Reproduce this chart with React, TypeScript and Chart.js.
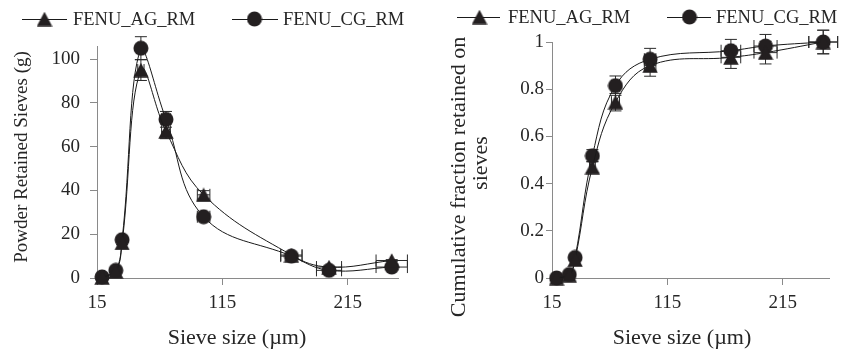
import React, { useEffect, useRef } from "react";
import { Chart, registerables } from "chart.js";

Chart.register(...registerables);

// ---------- data ----------
const seriesNames = ["FENU_AG_RM", "FENU_CG_RM"];
const sieveSizes = [19, 30, 35, 50, 70, 100, 170, 200, 250];
const sieveSizeErr = [0.95, 1.5, 1.75, 2.5, 3.5, 5, 8.5, 10, 12.5];

const agRetained = [0.3, 3, 16, 95, 67, 38, 10.5, 5, 8];
const agRetainedErr = [0.02, 0.15, 0.8, 4.75, 3.35, 1.9, 0.53, 0.25, 0.4];
const cgRetained = [0.5, 3.5, 17.5, 105, 72.5, 28, 10, 3.5, 5];
const cgRetainedErr = [0.03, 0.18, 0.88, 5.25, 3.6, 1.4, 0.5, 0.18, 0.25];

const agCumulative = [0, 0.012, 0.078, 0.47, 0.745, 0.9, 0.935, 0.955, 1.0];
const agCumulativeErr = [0, 0.0006, 0.004, 0.024, 0.037, 0.045, 0.047, 0.048, 0.05];
const cgCumulative = [0, 0.015, 0.087, 0.518, 0.815, 0.927, 0.963, 0.983, 1.0];
const cgCumulativeErr = [0, 0.0008, 0.0044, 0.026, 0.041, 0.046, 0.048, 0.049, 0.05];

const xTicks = [15, 115, 215];
const retainedTicks = [0, 20, 40, 60, 80, 100];
const cumulativeTicks = [0, 0.2, 0.4, 0.6, 0.8, 1];

const xTitle = "Sieve size (\u00b5m)";
const retainedTitle = ["Powder Retained Sieves (g)"];
const cumulativeTitle = ["Cumulative fraction retained on", "sieves"];

// ---------- styling ----------
const FONT = "'Liberation Serif', 'Times New Roman', serif";
const MARK = "#231f20";
const LINE = "#1a1a1a";
const AXIS = "#8a8a8a";
const TEXT = "#262626";
const W = 421;
const H = 350;

function makeTriangle(): HTMLCanvasElement {
  const c = document.createElement("canvas");
  c.width = 16;
  c.height = 15;
  const ctx = c.getContext("2d")!;
  ctx.fillStyle = MARK;
  ctx.beginPath();
  ctx.moveTo(8, 0.3);
  ctx.lineTo(15.7, 14.7);
  ctx.lineTo(0.3, 14.7);
  ctx.closePath();
  ctx.fill();
  return c;
}

function makeCircle(): HTMLCanvasElement {
  const c = document.createElement("canvas");
  c.width = 16;
  c.height = 16;
  const ctx = c.getContext("2d")!;
  ctx.fillStyle = MARK;
  ctx.beginPath();
  ctx.arc(8, 8, 7.5, 0, Math.PI * 2);
  ctx.fill();
  return c;
}

type PanelSpec = {
  ag: number[];
  agErr: number[];
  cg: number[];
  cgErr: number[];
  yMax: number;
  yTicks: number[];
  yTitle: string[];
  yFmt: (v: number) => string;
  area: { left: number; right: number; top: number; bottom: number };
  yTickLen: number;
  yTickPad: number;
  legend: { y: number; items: { l1: number; l2: number; m: number; t: number }[] };
  yTitlePos: { x: number[]; y: number[]; font: number };
  xTitlePos: { x: number; y: number; font: number };
};

const errorBarPlugin = {
  id: "errorBars",
  beforeDatasetsDraw(chart: any) {
    const { ctx } = chart;
    const xs = chart.scales.x;
    const ys = chart.scales.y;
    ctx.save();
    ctx.strokeStyle = "#2a2a2a";
    ctx.lineWidth = 1;
    const cap = 6;
    chart.data.datasets.forEach((ds: any) => {
      ds.data.forEach((p: any) => {
        const px = xs.getPixelForValue(p.x);
        const py = ys.getPixelForValue(p.y);
        const yTop = ys.getPixelForValue(p.y + p.ey);
        const yBot = ys.getPixelForValue(p.y - p.ey);
        const xL = xs.getPixelForValue(p.x - p.ex);
        const xR = xs.getPixelForValue(p.x + p.ex);
        ctx.beginPath();
        ctx.moveTo(px, yTop);
        ctx.lineTo(px, yBot);
        ctx.moveTo(px - cap, yTop);
        ctx.lineTo(px + cap, yTop);
        ctx.moveTo(px - cap, yBot);
        ctx.lineTo(px + cap, yBot);
        ctx.moveTo(xL, py);
        ctx.lineTo(xR, py);
        ctx.moveTo(xL, py - cap);
        ctx.lineTo(xL, py + cap);
        ctx.moveTo(xR, py - cap);
        ctx.lineTo(xR, py + cap);
        ctx.stroke();
      });
    });
    ctx.restore();
  },
};

function Panel({ spec }: { spec: PanelSpec }) {
  const ref = useRef<HTMLCanvasElement | null>(null);
  useEffect(() => {
    const tri = makeTriangle();
    const circ = makeCircle();
    const markers = [tri, circ];
    const a = spec.area;

    const annotate = {
      id: "annotate",
      afterDraw(chart: any) {
        const ctx = chart.ctx;
        ctx.save();
        // legend
        spec.legend.items.forEach((it, i) => {
          ctx.strokeStyle = LINE;
          ctx.lineWidth = 1;
          ctx.beginPath();
          ctx.moveTo(it.l1, spec.legend.y + 0.5);
          ctx.lineTo(it.l2, spec.legend.y + 0.5);
          ctx.stroke();
          const m = markers[i];
          ctx.drawImage(m, it.m - m.width / 2, spec.legend.y - m.height / 2);
          ctx.fillStyle = TEXT;
          ctx.font = `18.5px ${FONT}`;
          ctx.textAlign = "left";
          ctx.textBaseline = "middle";
          ctx.fillText(seriesNames[i], it.t, spec.legend.y + 1);
        });
        // x title
        ctx.font = `${spec.xTitlePos.font}px ${FONT}`;
        ctx.textAlign = "center";
        ctx.textBaseline = "middle";
        ctx.fillStyle = TEXT;
        ctx.fillText(xTitle, spec.xTitlePos.x, spec.xTitlePos.y);
        // y title (each line centred on its own position)
        ctx.font = `${spec.yTitlePos.font}px ${FONT}`;
        spec.yTitle.forEach((line, k) => {
          ctx.save();
          ctx.translate(spec.yTitlePos.x[k], spec.yTitlePos.y[k]);
          ctx.rotate(-Math.PI / 2);
          ctx.fillText(line, 0, 0);
          ctx.restore();
        });
        ctx.restore();
      },
    };

    const ds = (vals: number[], errs: number[], i: number) => ({
      label: seriesNames[i],
      data: sieveSizes.map((x, k) => ({ x, y: vals[k], ex: sieveSizeErr[k], ey: errs[k] })),
      borderColor: LINE,
      borderWidth: 1,
      backgroundColor: MARK,
      pointStyle: markers[i],
      pointRadius: 7.5,
      tension: 0.4,
      clip: false,
      fill: false,
    });

    const chart = new Chart(ref.current!, {
      type: "line",
      data: {
        datasets: [ds(spec.ag, spec.agErr, 0), ds(spec.cg, spec.cgErr, 1)],
      },
      options: {
        animation: false,
        responsive: false,
        devicePixelRatio: 1,
        layout: { padding: { left: 0, top: a.top, right: W - a.right, bottom: 0 } },
        plugins: { legend: { display: false }, tooltip: { enabled: false } },
        scales: {
          x: {
            type: "linear",
            min: 15,
            max: 255,
            afterBuildTicks: (s: any) => {
              s.ticks = xTicks.map((v) => ({ value: v }));
            },
            afterFit: (s: any) => {
              s.height = H - a.bottom;
            },
            grid: { drawOnChartArea: false, drawTicks: true, tickLength: 7, color: AXIS },
            border: { color: AXIS, width: 1 },
            ticks: { font: { family: FONT, size: 19 }, color: TEXT, padding: 7, maxRotation: 0 },
          },
          y: {
            type: "linear",
            min: 0,
            max: spec.yMax,
            afterBuildTicks: (s: any) => {
              s.ticks = spec.yTicks.map((v) => ({ value: v }));
            },
            afterFit: (s: any) => {
              s.width = a.left;
            },
            grid: { drawOnChartArea: false, drawTicks: true, tickLength: spec.yTickLen, color: AXIS },
            border: { color: AXIS, width: 1 },
            ticks: {
              font: { family: FONT, size: 19 },
              color: TEXT,
              padding: spec.yTickPad,
              callback: (v: any) => spec.yFmt(Number(v)),
            },
          },
        },
      },
      plugins: [errorBarPlugin, annotate],
    } as any);
    return () => chart.destroy();
  }, [spec]);
  return <canvas ref={ref} width={W} height={H} style={{ display: "block", width: W, height: H }} />;
}

const leftSpec: PanelSpec = {
  ag: agRetained,
  agErr: agRetainedErr,
  cg: cgRetained,
  cgErr: cgRetainedErr,
  yMax: 106,
  yTicks: retainedTicks,
  yTitle: retainedTitle,
  yFmt: (v) => String(v),
  area: { left: 97, right: 398, top: 46, bottom: 278 },
  yTickLen: 7,
  yTickPad: 10,
  legend: {
    y: 19,
    items: [
      { l1: 22, l2: 67, m: 44.5, t: 73 },
      { l1: 232, l2: 278, m: 254.5, t: 283 },
    ],
  },
  yTitlePos: { x: [22], y: [157], font: 19 },
  xTitlePos: { x: 237, y: 338, font: 22 },
};

const rightSpec: PanelSpec = {
  ag: agCumulative,
  agErr: agCumulativeErr,
  cg: cgCumulative,
  cgErr: cgCumulativeErr,
  yMax: 1,
  yTicks: cumulativeTicks,
  yTitle: cumulativeTitle,
  yFmt: (v) => String(Math.round(v * 10) / 10),
  area: { left: 131, right: 408, top: 42, bottom: 278 },
  yTickLen: 6,
  yTickPad: 2,
  legend: {
    y: 17,
    items: [
      { l1: 36, l2: 79, m: 58.5, t: 87 },
      { l1: 246, l2: 290, m: 268.5, t: 295 },
    ],
  },
  yTitlePos: { x: [38, 60], y: [177, 163], font: 22 },
  xTitlePos: { x: 261, y: 338, font: 22 },
};

export default function App() {
  useEffect(() => {
    document.body.style.margin = "0";
  }, []);
  return (
    <div style={{ display: "flex", width: 842, height: 350, background: "#fff" }}>
      <Panel spec={leftSpec} />
      <Panel spec={rightSpec} />
    </div>
  );
}
